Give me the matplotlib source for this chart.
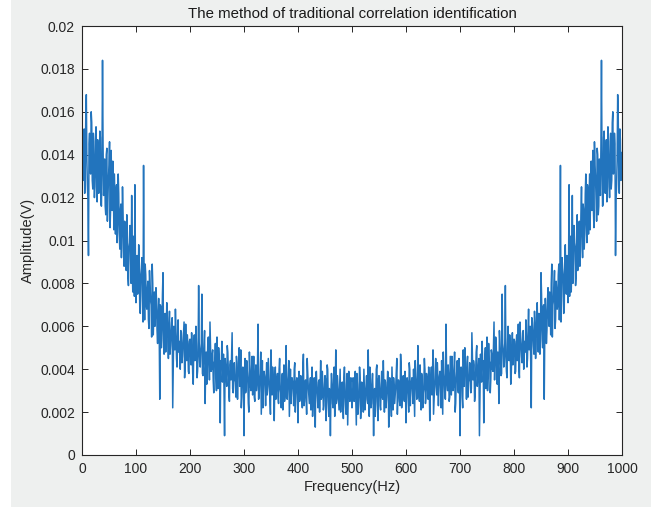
import numpy as np
import matplotlib
matplotlib.use("Agg")
import matplotlib.pyplot as plt
from matplotlib.patches import Rectangle

# amplitude, units of 1e-4 V
# the spectrum is mirror-symmetric about 500 Hz, so only 0..500 Hz is listed
# values at even frequencies 0, 2, ..., 500 Hz
amp_even = [
    141, 128, 152, 133, 168, 126, 93, 150, 131, 155,
    124, 146, 129, 153, 118, 141, 127, 148, 116, 184,
    121, 138, 112, 143, 119, 135, 106, 142, 114, 130,
    131, 103, 126, 108, 122, 96, 117, 104, 113, 88,
    107, 86, 103, 79, 99, 91, 121, 76, 95, 126,
    71, 93, 80, 90, 66, 87, 74, 135, 63, 84,
    68, 81, 59, 79, 70, 89, 56, 76, 65, 72,
    52, 73, 26, 69, 58, 85, 47, 66, 55, 64,
    45, 67, 51, 62, 22, 60, 49, 58, 41, 63,
    53, 40, 57, 46, 55, 36, 61, 44, 52, 38,
    54, 42, 50, 33, 56, 45, 51, 39, 79, 43,
    49, 75, 37, 52, 24, 48, 41, 55, 35, 50,
    40, 49, 29, 44, 36, 55, 31, 45, 15, 42,
    34, 47, 9, 41, 32, 48, 28, 42, 35, 57,
    29, 43, 34, 46, 26, 40, 32, 49, 27, 41,
    9, 45, 31, 39, 24, 48, 32, 40, 28, 46,
    25, 42, 33, 61, 27, 38, 19, 44, 30, 37,
    23, 43, 32, 39, 26, 49, 28, 36, 16, 41,
    31, 38, 24, 45, 29, 35, 21, 42, 27, 51,
    26, 37, 18, 40, 30, 34, 23, 43, 28, 36,
    15, 39, 27, 33, 22, 47, 25, 35, 19, 38,
    28, 32, 21, 41, 24, 36, 13, 39, 26, 34,
    20, 44, 27, 33, 23, 37, 16, 42, 25, 31,
    9, 38, 24, 35, 18, 49, 26, 32, 21, 40,
    27, 34, 17, 41, 23, 33, 14, 39, 25, 36,
    22,
]
# values at odd frequencies 1, 3, ..., 499 Hz
amp_odd = [
    135, 147, 122, 158, 137, 119, 145, 134, 160, 128,
    150, 120, 139, 125, 147, 122, 151, 117, 136, 144,
    128, 116, 140, 109, 129, 146, 115, 124, 137, 105,
    118, 123, 99, 131, 103, 114, 92, 125, 96, 109,
    94, 112, 83, 97, 107, 80, 89, 102, 74, 88,
    86, 75, 98, 68, 84, 92, 62, 81, 89, 70,
    77, 63, 86, 72, 55, 80, 67, 60, 78, 58,
    66, 57, 70, 50, 75, 54, 62, 48, 71, 53,
    59, 47, 56, 64, 43, 52, 68, 45, 55, 48,
    46, 58, 43, 51, 62, 41, 49, 56, 39, 53,
    48, 57, 38, 51, 44, 60, 36, 47, 53, 41,
    52, 38, 46, 58, 40, 33, 53, 44, 62, 39,
    47, 35, 43, 52, 30, 45, 50, 38, 44, 53,
    41, 30, 45, 36, 51, 39, 25, 44, 47, 31,
    40, 35, 27, 43, 38, 50, 34, 22, 40, 37,
    38, 29, 44, 35, 20, 40, 30, 46, 36, 27,
    37, 30, 42, 26, 35, 48, 31, 22, 39, 34,
    36, 28, 45, 33, 19, 37, 41, 29, 34, 26,
    35, 27, 40, 31, 22, 38, 33, 25, 37, 30,
    33, 44, 28, 24, 36, 31, 40, 20, 34, 29,
    31, 25, 37, 29, 41, 23, 33, 27, 45, 32,
    24, 36, 30, 18, 34, 28, 38, 31, 22, 35,
    33, 26, 39, 21, 31, 35, 27, 40, 18, 30,
    29, 33, 22, 41, 30, 24, 37, 28, 31, 20,
    32, 23, 36, 29, 19, 38, 26, 31, 34, 27,
]

half = np.column_stack([amp_even[:-1], amp_odd]).ravel().tolist() + [amp_even[-1]]
amp = np.array(half + half[-2::-1]) * 1e-4
freq = np.arange(len(amp))  # 1 Hz bins, 0..1000 Hz

xticks = list(range(0, 1001, 100))
yticks = [0, 0.002, 0.004, 0.006, 0.008, 0.01, 0.012, 0.014, 0.016, 0.018, 0.02]
ytick_labels = ['0', '0.002', '0.004', '0.006', '0.008', '0.01',
                '0.012', '0.014', '0.016', '0.018', '0.02']

plt.rcParams['font.family'] = ['Liberation Sans', 'DejaVu Sans']

fig = plt.figure(figsize=(6.51, 5.07), dpi=100, facecolor='#eef0ef')
# thin white strip on the left edge of the screenshot
fig.patches.append(Rectangle((0, 0), 11 / 651, 1, transform=fig.transFigure,
                             facecolor='white', edgecolor='none', zorder=-10))
ax = fig.add_axes([82 / 651, 1 - 455 / 507, 540 / 651, 429 / 507])
ax.set_facecolor('white')

ax.plot(freq, amp, color='#2274bd', linewidth=1.1)

ax.set_xlim(0, 1000)
ax.set_ylim(0, 0.02)
ax.set_xticks(xticks)
ax.set_xticklabels([str(t) for t in xticks])
ax.set_yticks(yticks)
ax.set_yticklabels(ytick_labels)
ax.tick_params(direction='in', length=4, width=0.7, top=True, right=True,
               labelsize=10, colors='#262626', pad=5)
for s in ax.spines.values():
    s.set_color('#262626')
    s.set_linewidth(0.8)

ax.set_title('The method of traditional correlation identification',
             fontsize=10.8, color='#1a1a1a', pad=6)
ax.set_xlabel('Frequency(Hz)', fontsize=10.5, color='#262626', labelpad=3)
ax.set_ylabel('Amplitude(V)', fontsize=10.5, color='#262626', labelpad=4)

fig.savefig('out.png', dpi=100, facecolor=fig.get_facecolor())
